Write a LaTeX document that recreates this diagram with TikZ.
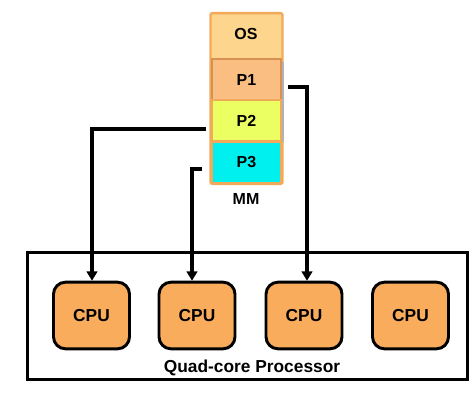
\documentclass[tikz,border=0pt]{standalone}
\usepackage{fontspec}
\setmainfont{Liberation Sans}
\usetikzlibrary{arrows.meta,calc}
\definecolor{osfill}{RGB}{253,213,140}
\definecolor{osdraw}{RGB}{240,170,90}
\definecolor{pone}{RGB}{250,190,130}
\definecolor{ponedraw}{RGB}{215,145,80}
\definecolor{ptwo}{RGB}{236,255,98}
\definecolor{pthree}{RGB}{0,240,240}
\definecolor{cpufill}{RGB}{249,173,92}
\begin{document}
\begin{tikzpicture}[x=0.75pt,y=-0.75pt,
  membox/.style={draw=osdraw,line width=1.5pt,minimum width=51.75pt,minimum height=30.75pt,inner sep=0pt,font=\fontsize{12}{14}\selectfont\bfseries},
  cpubox/.style={draw=black,fill=cpufill,line width=2.2pt,rounded corners=9pt,minimum width=57pt,minimum height=50pt,inner sep=0pt,font=\fontsize{13}{15}\selectfont\bfseries},
  arr/.style={line width=3pt,-{Triangle[width=8pt,length=7pt]}},
  conn/.style={line width=3pt}]
\useasboundingbox (0,0) rectangle (474,418);
% memory column
\node[draw=osdraw,fill=osfill,line width=1.8pt,rounded corners=1.5pt,minimum width=54pt,minimum height=128pt,inner sep=0pt] (col) at (246.5,98.5) {};
\node[font=\fontsize{12}{14}\selectfont\bfseries] (os) at (246,34) {OS};
\fill[gray!60] (281,62) rectangle (284,142);
\node[membox,fill=pone,draw=ponedraw] (P1) at (246.5,79.5) {P1};
\node[membox,fill=ptwo] (P2) at (246.5,120.5) {P2};
\node[membox,fill=pthree] (P3) at (246.5,162) {P3};
\node[font=\fontsize{12}{14}\selectfont\bfseries] (mm) at (246,199) {MM};
% processor
\node[draw=black,line width=2.2pt,minimum width=330pt,minimum height=95.5pt,inner sep=0pt] (proc) at (247.5,316) {};
\node[cpubox] (c1) at (91.5,315.5) {CPU};
\node[cpubox] (c2) at (197,315.5) {CPU};
\node[cpubox] (c3) at (304,315.5) {CPU};
\node[cpubox] (c4) at (410.5,315.5) {CPU};
\node[font=\fontsize{13}{15}\selectfont\bfseries] (ql) at (252,368) {Quad-core Processor};
% connectors
\coordinate (k1) at (92,0);
\coordinate (k2) at (192,0);
\coordinate (k3) at (307,0);
\draw[arr] ($(P2.west)+(-5,8)$) -| (k1 |- c1.north);
\draw[arr] ($(P3.west)+(-9,7)$) -| (k2 |- c2.north);
\draw[arr] ($(P1.east)+(6,7)$) -| (k3 |- c3.north);
\end{tikzpicture}
\end{document}
